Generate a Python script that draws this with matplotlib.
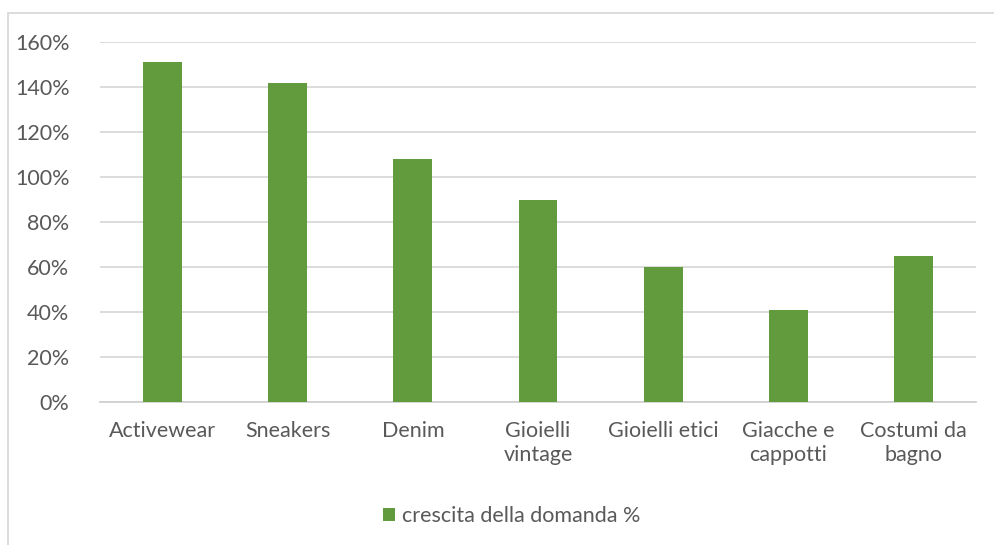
import matplotlib
matplotlib.use("Agg")
import matplotlib.pyplot as plt
from matplotlib.patches import Rectangle
from matplotlib.ticker import FuncFormatter

categories = ["Activewear", "Sneakers", "Denim", "Gioielli\nvintage", "Gioielli etici",
              "Giacche e\ncappotti", "Costumi da\nbagno"]
growth = [1.51, 1.42, 1.08, 0.90, 0.60, 0.41, 0.65]
series_name = "crescita della domanda %"
y_ticks = [0, 0.2, 0.4, 0.6, 0.8, 1.0, 1.2, 1.4, 1.6]

plt.rcParams["font.family"] = ["Lato", "DejaVu Sans"]
text_color = "#595959"
bar_color = "#629B3E"
grid_color = "#D9D9D9"

W, H = 994, 545
fig = plt.figure(figsize=(W / 100, H / 100), dpi=100)
ax = fig.add_axes([100 / W, 1 - 402 / H, 876 / W, 360 / H])

x = range(len(categories))
ax.bar(x, growth, width=0.31, color=bar_color, label=series_name, zorder=3)

ax.set_xlim(-0.5, len(categories) - 0.5)
ax.set_ylim(0, 1.6)
ax.set_yticks(y_ticks)
ax.yaxis.set_major_formatter(FuncFormatter(lambda v, _: f"{v * 100:.0f}%"))
ax.set_xticks(list(x))
ax.set_xticklabels(categories)
ax.tick_params(axis="both", length=0, labelsize=15.5, colors=text_color)
ax.tick_params(axis="y", pad=22)
ax.tick_params(axis="x", pad=14)
for lbl in ax.get_xticklabels():
    lbl.set_linespacing(1.25)

ax.grid(axis="y", color=grid_color, linewidth=1.3, zorder=0)
for side in ("top", "right", "left"):
    ax.spines[side].set_visible(False)
ax.spines["bottom"].set_color("#D0D0D0")
ax.spines["bottom"].set_linewidth(1.3)

leg = fig.legend(loc="center", bbox_to_anchor=(512 / W, 1 - 516 / H), frameon=False,
                 fontsize=15.5, handlelength=0.55, handleheight=0.6, handletextpad=0.35)
for t in leg.get_texts():
    t.set_color(text_color)

# chart frame
fig.patches.append(Rectangle((8 / W, -0.2), 1.2, 1 - 13 / H + 0.2, transform=fig.transFigure,
                             fill=False, edgecolor=grid_color, linewidth=1.3))

fig.savefig("out.png", dpi=100)
